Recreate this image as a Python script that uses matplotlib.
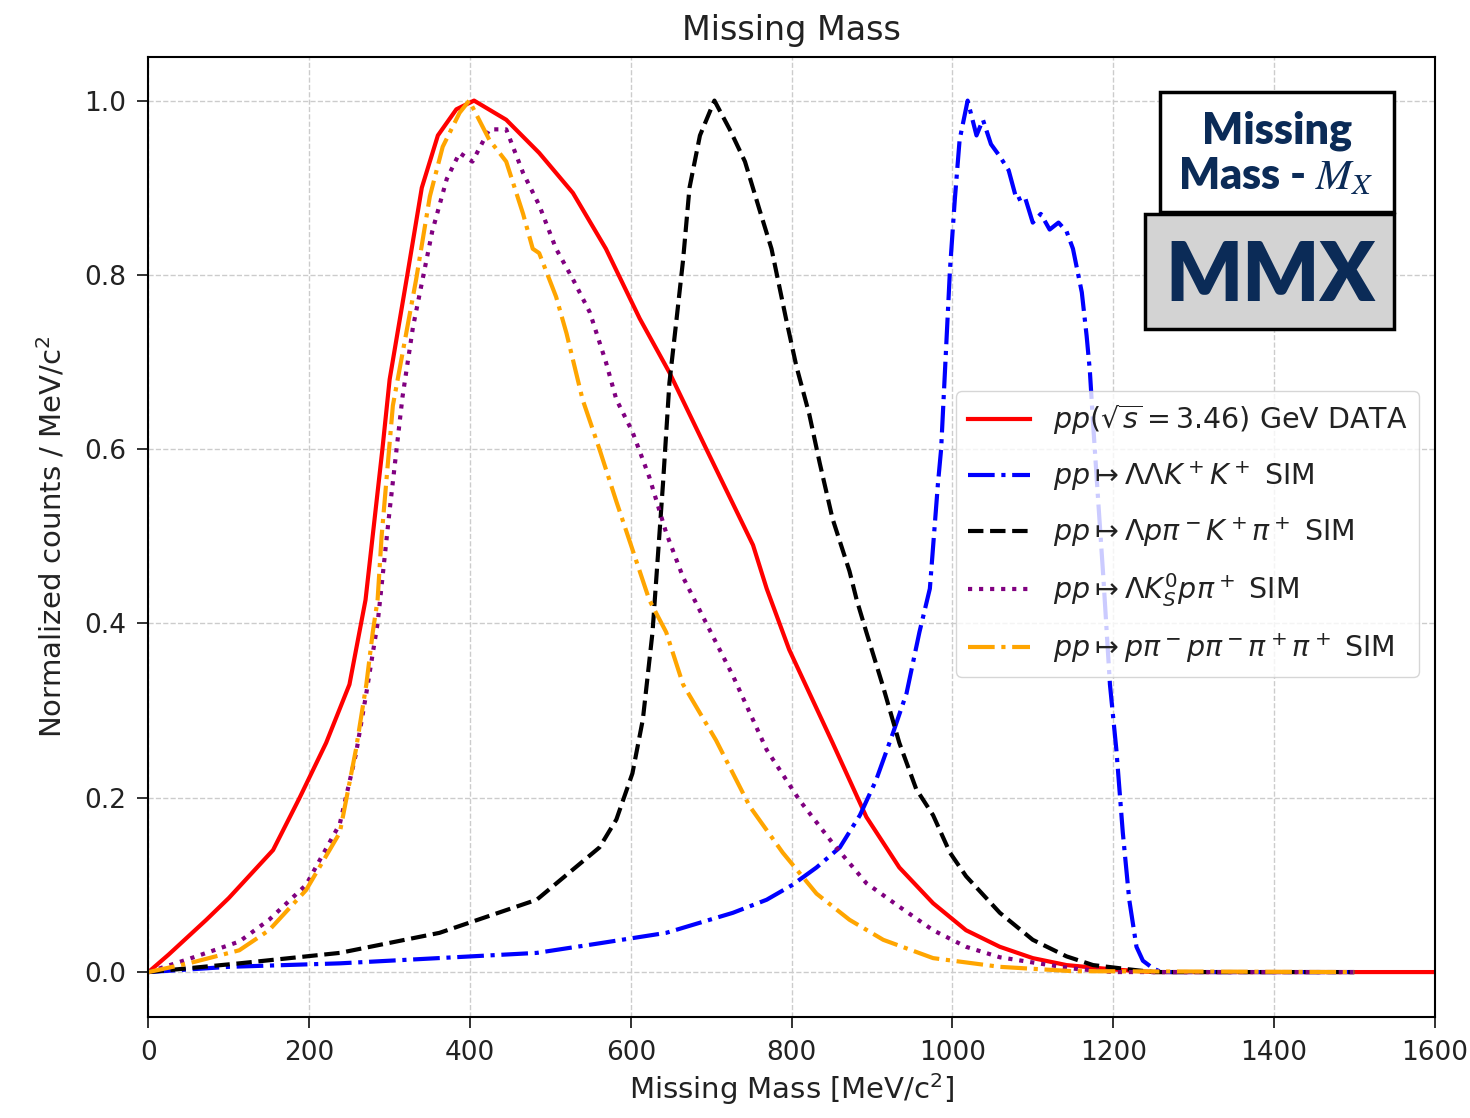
import matplotlib
matplotlib.use("Agg")
import matplotlib.pyplot as plt
from matplotlib.patches import Rectangle

# values (x in MeV/c^2, y normalised)
red_x = [0, 25, 72, 100, 155, 188, 221, 250, 270, 291, 300, 322, 340, 360, 383, 405, 445, 486, 528, 569,
         611, 648, 694, 752, 769, 797, 851, 893, 934, 976, 1017, 1059, 1100, 1142, 1200, 1250, 1600]
red_y = [0, 0.02, 0.06, 0.085, 0.14, 0.2, 0.263, 0.33, 0.427, 0.6, 0.68, 0.8, 0.9, 0.96, 0.99, 1.0, 0.978,
         0.94, 0.894, 0.83, 0.75, 0.688, 0.60, 0.49, 0.44, 0.37, 0.263, 0.178, 0.12, 0.079, 0.048, 0.029,
         0.016, 0.008, 0.003, 0.0, 0.0]

blue_x = [0, 100, 238, 483, 561, 644, 727, 769, 801, 831, 860, 885, 905, 926, 943, 959, 972, 982, 986,
          997, 1003, 1009, 1019, 1030, 1038, 1048, 1059, 1070, 1080, 1090, 1100, 1110, 1121, 1132, 1142,
          1150, 1161, 1167, 1171, 1175, 1180, 1188, 1196, 1204, 1212, 1220, 1229, 1237, 1250, 1260, 1500]
blue_y = [0, 0.006, 0.01, 0.022, 0.033, 0.045, 0.068, 0.083, 0.10, 0.12, 0.143, 0.18, 0.22, 0.274, 0.32,
          0.39, 0.44, 0.56, 0.60, 0.806, 0.886, 0.955, 1.0, 0.96, 0.978, 0.95, 0.936, 0.92, 0.886, 0.89,
          0.86, 0.87, 0.852, 0.86, 0.85, 0.83, 0.78, 0.73, 0.69, 0.63, 0.56, 0.45, 0.33, 0.255, 0.16,
          0.083, 0.029, 0.013, 0.004, 0.0, 0.0]

black_x = [0, 113, 238, 362, 483, 561, 582, 602, 615, 627, 640, 648, 657, 665, 673, 686, 704, 723, 742,
           760, 775, 793, 806, 822, 835, 851, 872, 881, 893, 913, 934, 955, 976, 997, 1017, 1059, 1100,
           1142, 1175, 1230, 1250, 1500]
black_y = [0, 0.01, 0.022, 0.045, 0.083, 0.143, 0.175, 0.228, 0.29, 0.39, 0.56, 0.676, 0.75, 0.817, 0.9,
           0.96, 1.0, 0.967, 0.93, 0.875, 0.83, 0.75, 0.695, 0.64, 0.584, 0.52, 0.46, 0.427, 0.39, 0.33,
           0.263, 0.21, 0.18, 0.137, 0.11, 0.068, 0.037, 0.018, 0.008, 0.002, 0.0, 0.0]

purple_x = [0, 50, 113, 150, 196, 238, 258, 271, 285, 300, 316, 329, 353, 371, 387, 403, 424, 445, 466,
            486, 507, 528, 549, 569, 582, 602, 623, 644, 665, 694, 727, 769, 810, 851, 893, 934, 976,
            1017, 1059, 1100, 1150, 1200, 1500]
purple_y = [0, 0.015, 0.035, 0.06, 0.10, 0.17, 0.25, 0.32, 0.40, 0.53, 0.66, 0.74, 0.85, 0.91, 0.94, 0.93,
            0.967, 0.967, 0.917, 0.88, 0.83, 0.795, 0.757, 0.70, 0.657, 0.62, 0.568, 0.504, 0.453, 0.40,
            0.34, 0.255, 0.197, 0.148, 0.102, 0.075, 0.048, 0.029, 0.017, 0.011, 0.004, 0.0, 0.0]

orange_x = [0, 50, 113, 150, 196, 238, 258, 271, 279, 285, 290, 304, 316, 333, 350, 366, 387, 399, 424,
            445, 466, 478, 486, 507, 520, 540, 561, 582, 602, 623, 644, 665, 706, 748, 789, 831, 872,
            914, 976, 1059, 1150, 1500]
orange_y = [0, 0.01, 0.025, 0.048, 0.094, 0.16, 0.255, 0.33, 0.39, 0.427, 0.5, 0.65, 0.71, 0.795, 0.89,
            0.947, 0.986, 1.0, 0.955, 0.93, 0.87, 0.83, 0.825, 0.775, 0.733, 0.657, 0.6, 0.54, 0.485,
            0.427, 0.39, 0.33, 0.266, 0.19, 0.137, 0.09, 0.06, 0.037, 0.016, 0.006, 0.001, 0.0]

labels = [r'$pp(\sqrt{s}=3.46)$ GeV DATA',
          r'$pp\mapsto\Lambda\Lambda K^+K^+$ SIM',
          r'$pp\mapsto\Lambda p\pi^-K^+\pi^+$ SIM',
          r'$pp\mapsto\Lambda K^0_Sp\pi^+$ SIM',
          r'$pp\mapsto p\pi^-p\pi^-\pi^+\pi^+$ SIM']

navy = '#0b2b57'

fig = plt.figure(figsize=(14.7, 11.18), dpi=100)
ax = fig.add_axes([0.101, 0.090, 0.875, 0.859])

lw = 3.0
ax.plot(red_x, red_y, color='red', ls='-', lw=lw, label=labels[0])
ax.plot(blue_x, blue_y, color='blue', ls='-.', lw=lw, label=labels[1])
ax.plot(black_x, black_y, color='black', ls='--', lw=lw, label=labels[2])
ax.plot(purple_x, purple_y, color='purple', ls=':', lw=lw, label=labels[3])
ax.plot(orange_x, orange_y, color='orange', ls='-.', lw=lw, label=labels[4])

ax.set_xlim(0, 1600)
ax.set_ylim(-0.052, 1.05)
ax.set_yticks([0.0, 0.2, 0.4, 0.6, 0.8, 1.0])
ax.grid(True, ls='--', color='#cccccc', lw=1)
ax.tick_params(labelsize=19, length=8, width=1.3, pad=8, colors='#222222')
for s in ax.spines.values():
    s.set_linewidth(1.5)

ax.set_title('Missing Mass', fontsize=24, pad=12, color='#222222')
ax.set_xlabel(r'Missing Mass [MeV/c$^2$]', fontsize=21, color='#222222')
ax.set_ylabel(r'Normalized counts / MeV/c$^2$', fontsize=21, labelpad=12, color='#222222')

ax.legend(loc='upper left', bbox_to_anchor=(0.628, 0.652), borderaxespad=0,
          fontsize=20.5, handlelength=2.2, labelspacing=0.78, framealpha=0.8,
          labelcolor='#222222')

# MMX badge in the top right corner
fig.patches.append(Rectangle((0.789, 0.810), 0.159, 0.108, transform=fig.transFigure,
                             facecolor='white', edgecolor='black', lw=2.5, zorder=5))
fig.patches.append(Rectangle((0.779, 0.706), 0.169, 0.103, transform=fig.transFigure,
                             facecolor='#d3d3d3', edgecolor='black', lw=2.5, zorder=5))
fig.text(0.869, 0.883, 'Missing', ha='center', va='center', fontsize=31,
         fontweight='heavy', family='Lato', color=navy, zorder=6)
fig.text(0.868, 0.842, r'Mass - $M_X$', ha='center', va='center', fontsize=31,
         fontweight='heavy', family='Lato', color=navy, math_fontfamily='stix', zorder=6)
fig.text(0.864, 0.752, 'MMX', ha='center', va='center', fontsize=58,
         fontweight='heavy', family='Lato', color=navy, zorder=6)

fig.savefig('out.png', dpi=100)
